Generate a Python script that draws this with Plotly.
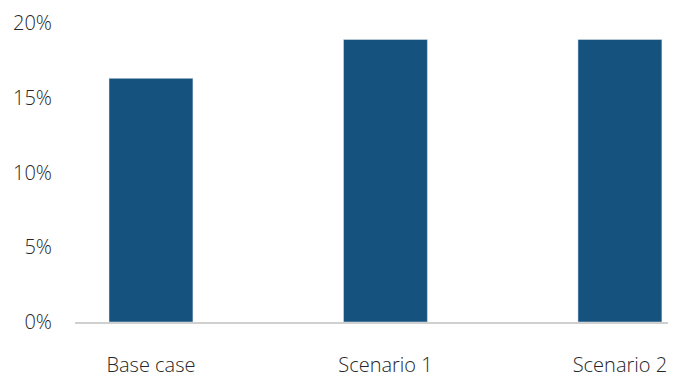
import plotly.graph_objects as go

categories = ["Base case", "Scenario 1", "Scenario 2"]
values = [0.163, 0.189, 0.189]
tick_vals = [0, 0.05, 0.10, 0.15, 0.20]
tick_text = ["0%", "5%", "10%", "15%", "20%"]

fig = go.Figure(go.Bar(x=categories, y=values, marker_color="#16527e", width=0.358))
fig.update_layout(
    width=678, height=379,
    margin=dict(l=75, r=10, t=23, b=57),
    paper_bgcolor="white", plot_bgcolor="white",
    font=dict(family="Open Sans", size=20, color="#262626", weight=300),
    showlegend=False,
)
fig.update_xaxes(range=[-0.324, 2.205], showline=True, linecolor="#d0d0d0", linewidth=1.5,
                 ticks="", ticklabelstandoff=24, showgrid=False, automargin=False)
fig.update_yaxes(range=[0, 0.2], tickvals=tick_vals, ticktext=tick_text, showgrid=False,
                 zeroline=False, showline=False, ticks="", ticklabelstandoff=22, automargin=False)
fig.write_html("out.html")
